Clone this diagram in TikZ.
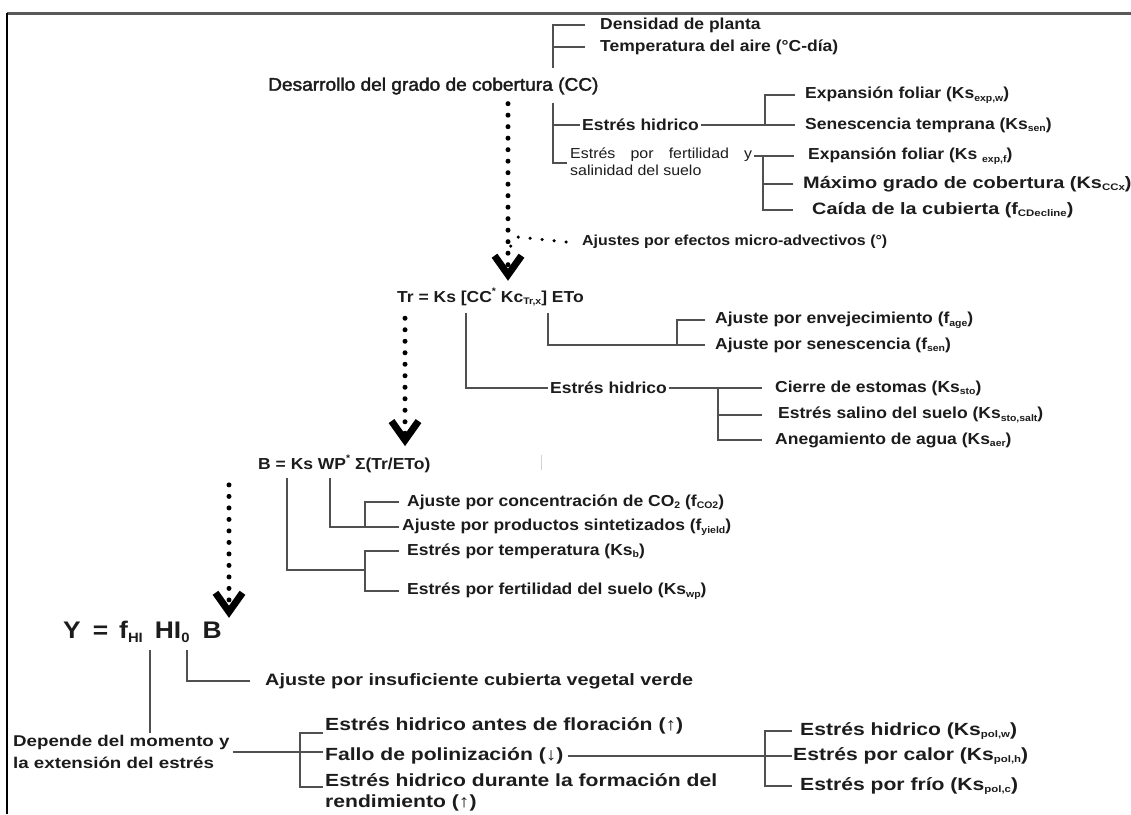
\documentclass[tikz,border=0pt]{standalone}
\usepackage{fontspec}
\setmainfont{Liberation Sans}
\newfontfamily\labf[FakeStretch=1.1]{Liberation Sans}
\newfontfamily\wlabf[FakeStretch=1.2]{Liberation Sans}
\newfontfamily\ttlf[FakeStretch=1.05,FakeBold=2]{Liberation Sans}
\usetikzlibrary{arrows.meta}
\definecolor{txt}{HTML}{1C1C1C}
\definecolor{lnc}{HTML}{505050}
\newcommand\sbs[1]{\raisebox{-0.3ex}{\fontsize{9.5}{9.5}\selectfont #1}}
\newcommand\bsbs[1]{\raisebox{-0.35ex}{\fontsize{13.5}{13.5}\selectfont #1}}
\newcommand\sps[1]{\raisebox{0.9ex}{\fontsize{9.5}{9.5}\selectfont #1}}
\begin{document}
\begin{tikzpicture}[x=1pt,y=-1pt,
  lab/.style={font={\labf\bfseries\fontsize{15.9}{21}\selectfont},anchor=west,inner sep=0pt,text=txt},
  wlab/.style={font={\wlabf\bfseries\fontsize{17.6}{21}\selectfont},anchor=west,inner sep=0pt,text=txt},
  ttl/.style={font={\ttlf\fontsize{18.2}{22}\selectfont},anchor=west,inner sep=0pt,text=txt},
  sml/.style={font={\labf\fontsize{14.5}{16.5}\selectfont},anchor=north west,inner sep=0pt,text=txt,align=left},
  big/.style={font={\labf\bfseries\fontsize{24}{26}\selectfont},anchor=west,inner sep=0pt,text=txt},
  ln/.style={draw=lnc,line width=1.5pt},
  dotarr/.style={line width=5pt,dash pattern=on 0pt off 11.5pt,line cap=round,
    -{Straight Barb[length=19pt,width=27pt,line width=7pt]}},
  smalldots/.style={line width=3.5pt,dash pattern=on 0pt off 12pt,line cap=round}]
\useasboundingbox (0,0) rectangle (1131,814);
\clip (0,0) rectangle (1131,814);
\fill[white] (0,0) rectangle (1131,814);
% frame
\draw[draw=gray!70!black,line width=3pt] (7,13) -- (1131,13);
\draw[draw=black,line width=1.5pt] (7,13) -- (7,814);
% nodes
\node[lab] (dens) at (600,25) {Densidad de planta};
\node[lab] (temp) at (600,47) {Temperatura del aire (°C-día)};
\node[ttl] (cc) at (268,86) {Desarrollo del grado de cobertura (CC)};
\node[lab] (eh1) at (582,125) {Estrés hidrico};
\node[lab] (expw) at (805,95) {Expansión foliar (Ks\sbs{exp,w})};
\node[lab] (sen) at (805,125) {Senescencia temprana (Ks\sbs{sen})};
\node[sml] (fert) at (570,148) {\makebox[182pt][s]{Estrés por fertilidad y}\\salinidad del suelo};
\node[lab] (expf) at (808,156) {Expansión foliar (Ks \sbs{exp,f})};
\node[lab,font={\wlabf\bfseries\fontsize{16.6}{21}\selectfont}] (ccx) at (803,184) {Máximo grado de cobertura (Ks\sbs{CCx})};
\node[lab,font={\wlabf\bfseries\fontsize{16.5}{21}\selectfont}] (cdec) at (812,210) {Caída de la cubierta (f\sbs{CDecline})};
\node[lab,font={\labf\bfseries\fontsize{14.5}{18}\selectfont}] (micro) at (582,242) {Ajustes por efectos micro-advectivos (°)};
\node[lab] (tr) at (397,297) {Tr = Ks [CC\sps{*} Kc\sbs{Tr,x}] ETo};
\node[lab] (age) at (715,320) {Ajuste por envejecimiento (f\sbs{age})};
\node[lab] (fsen) at (715,345) {Ajuste por senescencia (f\sbs{sen})};
\node[lab] (eh2) at (550,388) {Estrés hidrico};
\node[lab] (sto) at (775,388) {Cierre de estomas (Ks\sbs{sto})};
\node[lab] (salt) at (778,415) {Estrés salino del suelo (Ks\sbs{sto,salt})};
\node[lab] (aer) at (775,440) {Anegamiento de agua (Ks\sbs{aer})};
\node[lab] (b) at (258,464) {B = Ks WP\sps{*} Σ(Tr/ETo)};
\node[lab] (co2) at (407,502) {Ajuste por concentración de CO\sbs{2} (f\sbs{CO2})};
\node[lab] (yld) at (402,527) {Ajuste por productos sintetizados (f\sbs{yield})};
\node[lab] (ksb) at (407,551) {Estrés por temperatura (Ks\sbs{b})};
\node[lab] (kswp) at (407,591) {Estrés por fertilidad del suelo (Ks\sbs{wp})};
\node[big] (y) at (63,632) {Y\hspace{12pt}=\hspace{11pt}f\bsbs{HI}\hspace{12pt}HI\bsbs{0}\hspace{13pt}B};
\node[lab,font={\wlabf\bfseries\fontsize{16.5}{21}\selectfont}] (ins) at (265,681) {Ajuste por insuficiente cubierta vegetal verde};
\node[lab,font={\wlabf\bfseries\fontsize{15.6}{22}\selectfont},align=left,anchor=north west] (dep) at (13,735) {Depende del momento y\\la extensión del estrés};
\node[wlab] (ant) at (325,726) {Estrés hidrico antes de floración (↑)};
\node[wlab] (pol) at (325,756) {Fallo de polinización (↓)};
\node[wlab,align=left,anchor=north west] (dur) at (325,773) {Estrés hidrico durante la formación del\\rendimiento (↑)};
\node[wlab] (pw) at (800,731) {Estrés hidrico (Ks\sbs{pol,w})};
\node[wlab] (ph) at (793,756) {Estrés por calor (Ks\sbs{pol,h})};
\node[wlab] (pc) at (800,786) {Estrés por frío (Ks\sbs{pol,c})};
% helper coordinates
\coordinate (v1b) at (553,68);
\coordinate (v2t) at (553,103);
\coordinate (v2b) at (553,163);
\coordinate (f1) at (567,163);
\coordinate (j1) at (765,125);
\coordinate (fy) at (754,156);
\coordinate (j2) at (763,0);
\coordinate (a1) at (508,0);
\coordinate (a2) at (405,0);
\coordinate (a3) at (229,0);
\coordinate (m1) at (518,237);
\coordinate (m2) at (506,252);
\coordinate (k1) at (548,313);
\coordinate (j3) at (677,0);
\coordinate (k2) at (466,313);
\coordinate (j4) at (718,0);
\coordinate (k3) at (330,478);
\coordinate (j5) at (365,0);
\coordinate (k4) at (287,478);
\coordinate (j6) at (365,570);
\coordinate (k5) at (187,650);
\coordinate (k6) at (150,650);
\coordinate (j7) at (300,733);
\coordinate (j7r) at (323,733);
\coordinate (j8) at (300,787);
\coordinate (j8r) at (323,787);
\coordinate (j9) at (765,0);
% top brackets
\draw[ln] ([xshift=-15pt]dens.west) -| (v1b);
\draw[ln] ([xshift=-15pt]temp.west) -- (temp.west -| v1b);
\draw[ln] (v2t) |- ([xshift=-2pt]eh1.west);
\draw[ln] (v2t) -- (v2b) -- (f1);
\draw[ln] ([xshift=2pt]eh1.east) -- ([xshift=-10pt]sen.west);
\draw[ln] ([xshift=-10pt]expw.west) -| (j1);
\draw[ln] (fy) -- ([xshift=-14pt]expf.west);
\draw[ln] (fy -| j2) |- ([xshift=-19pt]cdec.west);
\draw[ln] (ccx.west -| j2) -- ([xshift=-10pt]ccx.west);
% dotted arrows
\draw[dotarr] ([yshift=-9pt]cc.south -| a1) -- ([yshift=7pt]tr.north -| a1);
\draw[smalldots] ([xshift=-16pt]micro.west) -- (m1) -- (m2);
\draw[dotarr] ([yshift=-12pt]tr.south -| a2) -- ([yshift=9pt]b.north -| a2);
\draw[dotarr] ([yshift=-12pt]b.south -| a3) -- ([yshift=3pt]y.north -| a3);
% Tr brackets
\draw[ln] (k1) |- ([xshift=-10pt]fsen.west);
\draw[ln] ([xshift=-10pt]age.west) -| (fsen.west -| j3);
\draw[ln] (k2) |- ([xshift=-2pt]eh2.west);
\draw[ln] ([xshift=2pt]eh2.east) -- ([xshift=-13pt]sto.west);
\draw[ln] (sto.west -| j4) |- ([xshift=-13pt]aer.west);
\draw[ln] (salt.west -| j4) -- ([xshift=-16pt]salt.west);
% B brackets
\draw[ln] (k3) |- ([xshift=-3pt]yld.west);
\draw[ln] ([xshift=-8pt]co2.west) -| (yld.west -| j5);
\draw[ln] (k4) |- (j6);
\draw[ln] ([xshift=-8pt]ksb.west) -| (kswp.west -| j5) -- ([xshift=-8pt]kswp.west);
\draw[draw=gray!35,line width=1pt] (541,455) -- (541,470);
% Y brackets
\draw[ln] (k5) |- ([xshift=-15pt]ins.west);
\draw[ln] (k6) -- ([yshift=2pt]dep.north -| k6);
\draw[ln] ([xshift=3pt]dep.east) -- ([xshift=-2pt]dep.east -| pol.west);
\draw[ln] (j7r) -- (j7) -- (j8) -- (j8r);
\draw[ln] ([xshift=4pt]pol.east) -- ([xshift=-1pt]ph.west);
\draw[ln] ([xshift=-8pt]pw.west) -| (pc.west -| j9) -- ([xshift=-8pt]pc.west);
\end{tikzpicture}
\end{document}
